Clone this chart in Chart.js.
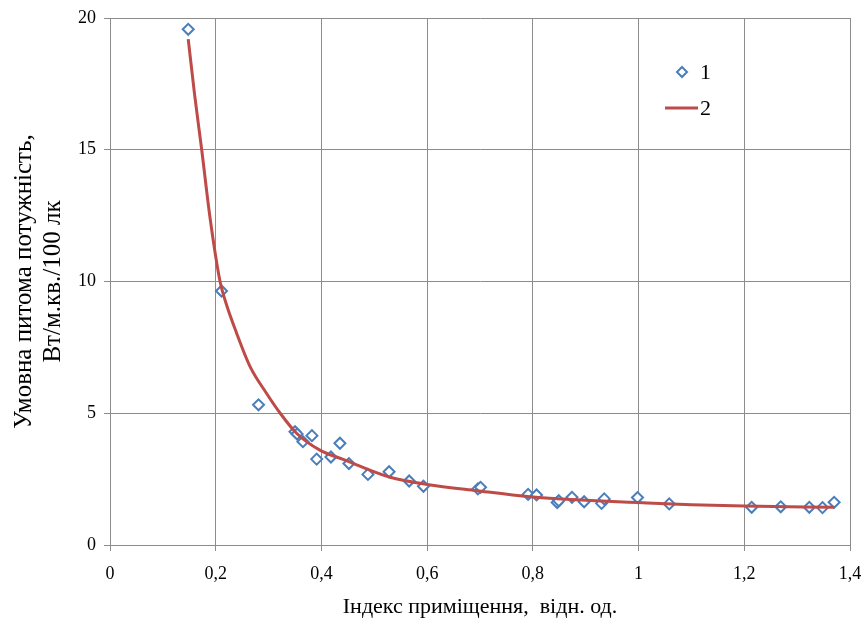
<!DOCTYPE html>
<html>
<head>
<meta charset="utf-8">
<script src="https://cdn.jsdelivr.net/npm/chart.js@4/dist/chart.umd.min.js"></script>
<style>
html,body{margin:0;padding:0;background:#fff;}
#wrap{width:865px;height:626px;position:relative;}
</style>
</head>
<body>
<div id="wrap"><canvas id="c" width="865" height="626"></canvas></div>
<script>
// Measured points (series 1)
const pointX = [0.148,0.211,0.281,0.350,0.354,0.365,0.382,0.391,0.418,0.435,0.452,0.488,0.528,0.566,0.593,0.696,0.701,0.791,0.807,0.846,0.849,0.874,0.897,0.930,0.935,0.998,1.058,1.214,1.269,1.323,1.348,1.370];
const pointY = [19.57,9.64,5.32,4.30,4.21,3.92,4.15,3.26,3.34,3.86,3.09,2.68,2.78,2.43,2.23,2.13,2.19,1.92,1.90,1.61,1.68,1.81,1.64,1.58,1.75,1.80,1.56,1.43,1.45,1.43,1.42,1.62];
// Fitted curve (series 2)
const curveX = [0.148,0.160,0.1735,0.189,0.208,0.2176,0.2397,0.265,0.296,0.322,0.353,0.397,0.441,0.53,0.60,0.694,0.795,0.90,1.00,1.10,1.20,1.37];
const curveY = [19.2,17.1,15.0,12.46,10.02,9.30,8.03,6.77,5.76,5.00,4.24,3.60,3.25,2.57,2.30,2.06,1.83,1.70,1.61,1.53,1.48,1.43];
const xTicks = [0,0.2,0.4,0.6,0.8,1,1.2,1.4];
const yTicks = [0,5,10,15,20];
const seriesLabels = ['1','2'];
const xTitle = 'Індекс приміщення,  відн. од.';
const yTitle = ['Умовна питома потужність,','Вт/м.кв./100 лк'];

const blue = '#4A7EBB';
const red = '#BE4B48';
const grid = '#8C8C8C';
const serif = "'Liberation Serif', 'DejaVu Serif', serif";

const legendPlugin = {
  id: 'insideLegend',
  afterDraw(chart) {
    const ctx = chart.ctx;
    const ca = chart.chartArea;
    const x0 = ca.left + 555, y1 = ca.top + 54, y2 = ca.top + 90;
    ctx.save();
    ctx.strokeStyle = blue; ctx.lineWidth = 2; ctx.fillStyle = '#fff';
    const dx = x0 + 17, r = 5;
    ctx.beginPath();
    ctx.moveTo(dx, y1 - r); ctx.lineTo(dx + r, y1); ctx.lineTo(dx, y1 + r); ctx.lineTo(dx - r, y1); ctx.closePath();
    ctx.fill(); ctx.stroke();
    ctx.strokeStyle = red; ctx.lineWidth = 3;
    ctx.beginPath(); ctx.moveTo(x0, y2); ctx.lineTo(x0 + 33, y2); ctx.stroke();
    ctx.fillStyle = '#000';
    ctx.font = "22px " + serif;
    ctx.textBaseline = 'middle'; ctx.textAlign = 'left';
    ctx.fillText(seriesLabels[0], x0 + 35, y1 + 1);
    ctx.fillText(seriesLabels[1], x0 + 35, y2 + 1);
    ctx.restore();
  }
};

new Chart(document.getElementById('c'), {
  data: {
    datasets: [
      {
        type: 'line', label: seriesLabels[1], order: 0,
        data: curveX.map((x, i) => ({x, y: curveY[i]})),
        borderColor: red, borderWidth: 3, pointRadius: 0,
        cubicInterpolationMode: 'monotone', fill: false
      },
      {
        type: 'scatter', label: seriesLabels[0], order: 1,
        data: pointX.map((x, i) => ({x, y: pointY[i]})),
        pointStyle: 'rectRot', pointRadius: 5.5, pointBorderWidth: 2,
        borderColor: blue, backgroundColor: '#fff', showLine: false
      }
    ]
  },
  options: {
    responsive: false, animation: false,
    layout: { padding: { left: 0, right: 15, top: 18, bottom: 0 } },
    plugins: { legend: { display: false }, tooltip: { enabled: false } },
    scales: {
      x: {
        type: 'linear', min: 0, max: 1.4,
        afterBuildTicks: s => { s.ticks = xTicks.map(v => ({value: v})); },
        afterFit: s => { s.height = 81; s.paddingLeft = 0; s.paddingRight = 0; },
        ticks: {
          color: '#000', font: { family: serif, size: 18 }, padding: 12,
          callback: v => String(Math.round(v * 10) / 10).replace('.', ',')
        },
        grid: { color: grid, lineWidth: 1, tickLength: 6 },
        border: { color: grid, width: 1 },
        title: { display: true, text: xTitle, color: '#000', font: { family: serif, size: 22, lineHeight: 1.2 }, padding: { top: 4, bottom: 6 } }
      },
      y: {
        type: 'linear', min: 0, max: 20,
        afterBuildTicks: s => { s.ticks = yTicks.map(v => ({value: v})); },
        afterFit: s => { s.width = 110; s.paddingTop = 0; s.paddingBottom = 0; },
        ticks: { color: '#000', font: { family: serif, size: 18 }, padding: 8 },
        grid: { color: grid, lineWidth: 1, tickLength: 6 },
        border: { color: grid, width: 1 },
        title: { display: true, text: yTitle, color: '#000', font: { family: serif, size: 25, lineHeight: 1.15 }, padding: { top: 10, bottom: 0 } }
      }
    }
  },
  plugins: [legendPlugin]
});
</script>
</body>
</html>
